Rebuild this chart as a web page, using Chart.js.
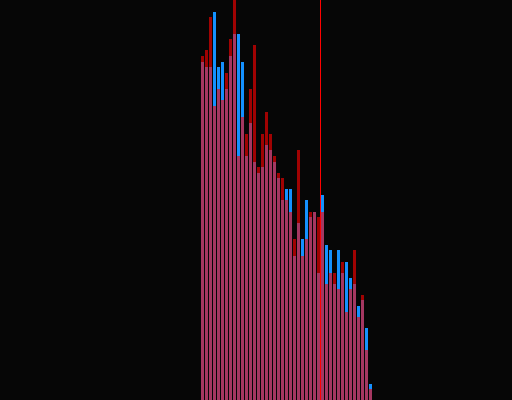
<!DOCTYPE html>
<html>
<head>
<meta charset="utf-8">
<script src="https://cdn.jsdelivr.net/npm/chart.js@4"></script>
<style>
    html, body { margin: 0; padding: 0; background: #060606; }
    #grafico { display: block; }
</style>
</head>
<body>
<canvas id="grafico" width="512" height="400"></canvas>
<script>
/* Dados do histograma: primeira classe e alturas de cada série */
const primeiraClasse = 50;

// Série azul (desenhada por baixo)
const valoresAzul = [
    84.5, 83.25, 83.25, 97, 83.25, 84.5, 77.75, 86, 91.5, 91.5,
    84.5, 61, 69.25, 59.5, 56.75, 58.25, 63.75, 62.5, 59.5, 55.5,
    50, 52.75, 52.75, 36, 44.25, 40.25, 50, 45.75, 47, 31.75,
    51.25, 38.75, 37.5, 29, 37.5, 31.75, 34.5, 30.5, 29, 23.5,
    25, 18, 4
];

// Série vermelha (semi-transparente, por cima)
const valoresVermelho = [
    86, 87.5, 95.75, 73.5, 77.75, 75, 81.75, 90.25, 105, 61,
    70.75, 66.5, 77.75, 88.75, 58.25, 66.5, 72, 66.5, 61, 56.75,
    55.5, 50, 47, 40.25, 62.5, 36, 40.25, 47, 47, 45.75,
    47, 29, 31.75, 31.75, 27.75, 34.5, 22, 27.75, 37.5, 20.75,
    26.25, 12.5, 2.75
];

// Posição da linha vertical de referência
const linhaReferencia = 80;

// Limites dos eixos
const eixoX = { min: -0.125, max: 127.875 };
const eixoY = { min: 0, max: 100 };

/* Converte as alturas em pontos {x, y} no centro de cada classe */
function paraPontos(valores) {
    return valores.map((v, i) => ({ x: primeiraClasse + i + 0.5, y: v }));
}

const ctx = document.getElementById("grafico").getContext("2d");
new Chart(ctx, {
    data: {
        datasets: [
            {
                type: "bar",
                data: paraPontos(valoresAzul),
                backgroundColor: "rgb(20,145,255)",
                grouped: false,
                barPercentage: 0.75,
                categoryPercentage: 1,
                inflateAmount: 0,
                borderWidth: 0,
                order: 3,
            },
            {
                type: "bar",
                data: paraPontos(valoresVermelho),
                backgroundColor: "rgba(255,0,0,0.62)",
                grouped: false,
                barPercentage: 0.75,
                categoryPercentage: 1,
                inflateAmount: 0,
                borderWidth: 0,
                order: 2,
            },
            {
                // Linha vertical feita com dois pontos
                type: "line",
                data: [
                    { x: linhaReferencia, y: eixoY.min },
                    { x: linhaReferencia, y: eixoY.max },
                ],
                borderColor: "#ff0000",
                borderWidth: 1,
                pointRadius: 0,
                fill: false,
                order: 1,
            },
        ],
    },
    options: {
        responsive: false,
        animation: false,
        devicePixelRatio: 1,
        layout: { padding: 0 },
        plugins: {
            legend: { display: false },
            tooltip: { enabled: false },
        },
        scales: {
            x: { type: "linear", display: false, min: eixoX.min, max: eixoX.max, offset: false },
            y: { type: "linear", display: false, min: eixoY.min, max: eixoY.max },
        },
    },
});
</script>
</body>
</html>
